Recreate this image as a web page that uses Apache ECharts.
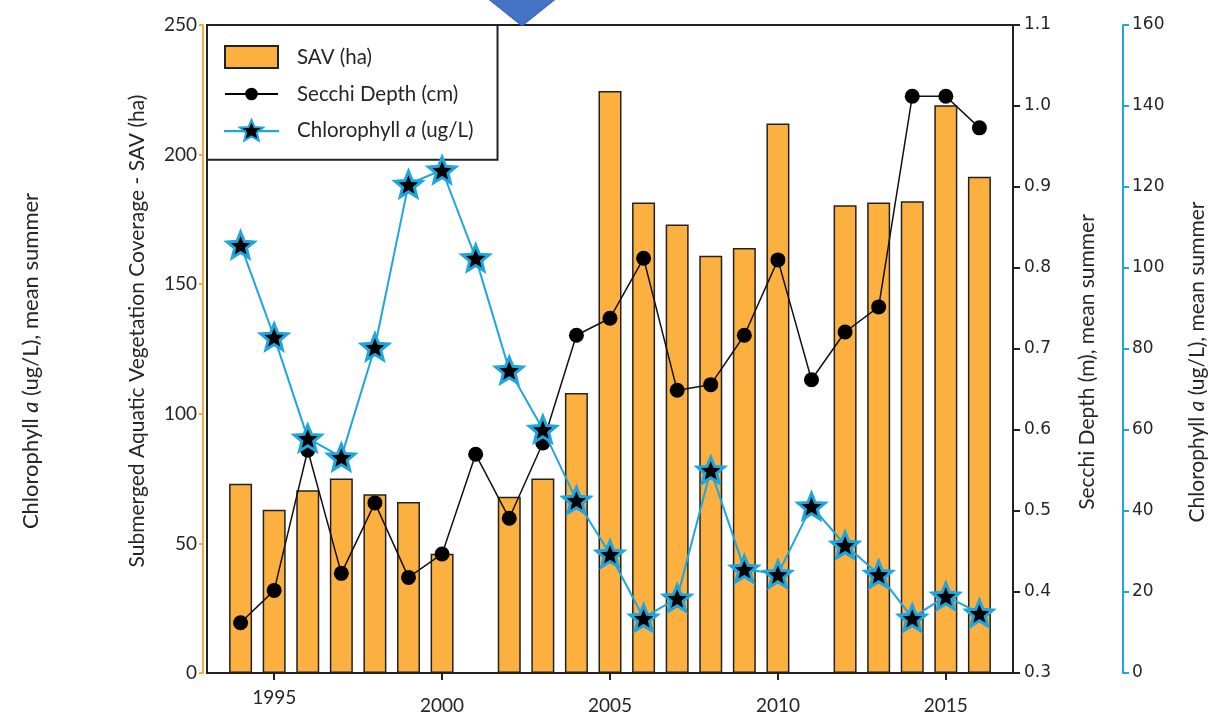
<!DOCTYPE html>
<html>
<head>
<meta charset="utf-8">
<script src="https://cdn.jsdelivr.net/npm/echarts@6/dist/echarts.min.js"></script>
<style>
html,body{margin:0;padding:0;background:#fff;}
#chart{width:1230px;height:714px;}
</style>
</head>
<body>
<div id="chart"></div>
<script>
const years = [1994,1995,1996,1997,1998,1999,2000,2001,2002,2003,2004,2005,2006,2007,2008,2009,2010,2011,2012,2013,2014,2015,2016];
const savHa = [73,63,70.5,75,69,66,46,null,68,75,108,224.5,181.5,173,161,164,212,null,180.5,181.5,182,219,191.5];
const secchiM = [0.362,0.402,0.575,0.423,0.51,0.418,0.447,0.570,0.491,0.584,0.717,0.738,0.812,0.649,0.656,0.717,0.81,0.662,0.721,0.752,1.012,1.012,0.973];
const chlUgL = [105.7,83,58,53.3,80.5,120.7,124.2,102.5,74.8,60.2,42.7,29.4,13.6,18.5,50.1,25.7,24.4,41.2,31.6,24.4,13.6,19,14.8];
const xTickYears = [1995,2000,2005,2010,2015];

const pair = (arr) => years.map((y,i) => [y, arr[i]]).filter(d => d[1] !== null);
const STAR = 'path://M50,0L62.93,32.2L97.55,34.55L70.92,56.8L79.39,90.45L50,72L20.61,90.45L29.08,56.8L2.45,34.55L37.07,32.2Z';
const LEG_DOT = 'path://M0,10H52V12H0Z M32.2,11A6.2,6.2 0 1 1 19.8,11A6.2,6.2 0 1 1 32.2,11Z';
const LEG_STAR = 'path://M0,10.9H19.5V11.1H0Z M32.5,10.9H52V11.1H32.5Z M26,0L28.96,6.93L37.4,7.45L31.24,12.55L33.18,20.3L26,16.04L18.82,20.3L20.76,12.55L14.6,7.45L23.04,6.93Z';
const TXT = '#262626';
const ORANGE = '#F7A93B';
const BLUE = '#1EA6DE';
const FONT = 'Lato';
const NAME_SIZE = 21;

const chart = echarts.init(document.getElementById('chart'), null, {renderer:'canvas'});
chart.setOption({
  animation: false,
  backgroundColor: '#fff',
  grid: {left: 207, right: 217, top: 25, bottom: 41, outerBoundsMode: 'none', containLabel: false,
    show: true, borderColor: '#222', borderWidth: 2, backgroundColor: 'transparent'},
  legend: {
    left: 207, top: 25,
    orient: 'vertical',
    padding: [20, 24, 18, 17],
    itemGap: 14.5,
    itemWidth: 53, itemHeight: 22,
    backgroundColor: '#fff', borderColor: '#222', borderWidth: 2,
    data: [
      {name: 'SAV (ha)', icon: 'rect'},
      {name: 'Secchi Depth (cm)', icon: LEG_DOT},
      {name: 'Chlorophyll a (ug/L)', icon: LEG_STAR}
    ],
    formatter: function (name) {
      if (name.indexOf('Chlorophyll') === 0) return '{n|Chlorophyll }{i|a}{n| (ug/L)}';
      return '{n|' + name + '}';
    },
    textStyle: {
      padding: [0, 0, 0, 14],
      rich: {
        n: {fontFamily: FONT, fontSize: 20.5, color: TXT},
        i: {fontFamily: FONT, fontSize: 20.5, color: TXT, fontStyle: 'italic'}
      }
    }
  },
  xAxis: [{
    type: 'value', min: 1993, max: 2017, position: 'bottom',
    axisLine: {show: true, onZero: false, lineStyle: {color: '#222', width: 2}},
    axisTick: {show: true, customValues: xTickYears, length: 7, lineStyle: {color: '#222', width: 2}},
    axisLabel: {
      customValues: xTickYears, margin: 15,
      formatter: v => (v === 1995 ? '{a|' + v + '}' : '{b|' + v + '}'),
      rich: {
        a: {fontFamily: FONT, fontSize: 19, color: TXT},
        b: {fontFamily: FONT, fontSize: 19, color: TXT, padding: [8, 0, 0, 0]}
      }
    },
    splitLine: {show: false}
  }],
  yAxis: [{
    type: 'value', min: 0, max: 250, interval: 50, position: 'left', offset: 4,
    axisLine: {show: true, lineStyle: {color: ORANGE, width: 2}},
    axisTick: {show: true, length: 4, lineStyle: {color: ORANGE, width: 2}},
    axisLabel: {fontFamily: FONT, fontSize: 19, color: TXT, margin: 6},
    splitLine: {show: false},
    name: 'Submerged Aquatic Vegetation Coverage - SAV (ha)',
    nameLocation: 'middle', nameRotate: 90, nameGap: 55,
    nameTextStyle: {fontFamily: FONT, fontSize: NAME_SIZE, color: TXT, padding: [0, 0, 0, 36]}
  }, {
    type: 'value', min: 0.3, max: 1.1, interval: 0.1, position: 'right',
    axisLine: {show: true, lineStyle: {color: '#222', width: 2}},
    axisTick: {show: true, length: 7, lineStyle: {color: '#222', width: 2}},
    axisLabel: {fontFamily: 'DejaVu Sans', fontSize: 17, color: TXT, margin: 11, formatter: v => v.toFixed(1)},
    splitLine: {show: false},
    name: 'Secchi Depth (m), mean summer',
    nameLocation: 'middle', nameRotate: 90, nameGap: 64,
    nameTextStyle: {fontFamily: FONT, fontSize: NAME_SIZE, color: TXT, padding: [0, 26, 0, 0]}
  }, {
    type: 'value', min: 0, max: 160, interval: 20, position: 'right', offset: 110,
    axisLine: {show: true, lineStyle: {color: BLUE, width: 2}},
    axisTick: {show: true, length: 6, lineStyle: {color: BLUE, width: 2}},
    axisLabel: {fontFamily: 'DejaVu Sans', fontSize: 17, color: TXT, margin: 9},
    splitLine: {show: false},
    name: '{n|Chlorophyll }{i|a}{n| (ug/L), mean summer}',
    nameLocation: 'middle', nameRotate: 90, nameGap: 64,
    nameTextStyle: {fontFamily: FONT, fontSize: NAME_SIZE, color: TXT, padding: [0, 26, 0, 0],
      rich: {n: {fontFamily: FONT, fontSize: NAME_SIZE, color: TXT}, i: {fontFamily: FONT, fontSize: NAME_SIZE, color: TXT, fontStyle: 'italic'}}}
  }],
  graphic: [{
    type: 'polygon', z: 100,
    shape: {points: [[487, -2], [557, -2], [522, 26]]},
    style: {fill: '#4472C4', stroke: '#3A64AE', lineWidth: 1}
  }, {
    type: 'text', x: 31, y: 361, rotation: Math.PI / 2,
    style: {
      text: '{n|Chlorophyll }{i|a}{n| (ug/L), mean summer}',
      align: 'center', verticalAlign: 'middle',
      rich: {n: {fontFamily: FONT, fontSize: 22, fill: TXT}, i: {fontFamily: FONT, fontSize: 22, fill: TXT, fontStyle: 'italic'}}
    }
  }],
  series: [{
    name: 'SAV (ha)', type: 'bar', xAxisIndex: 0, yAxisIndex: 0,
    barWidth: 23,
    itemStyle: {color: '#FBB040', borderColor: '#222', borderWidth: 1.5},
    data: pair(savHa)
  }, {
    name: 'Secchi Depth (cm)', type: 'line', xAxisIndex: 0, yAxisIndex: 1,
    symbol: 'circle', symbolSize: 15,
    lineStyle: {color: '#111', width: 1.5},
    itemStyle: {color: '#000', borderColor: '#000', borderWidth: 0},
    data: pair(secchiM), z: 3
  }, {
    name: 'Chlorophyll a (ug/L)', type: 'line', xAxisIndex: 0, yAxisIndex: 2,
    symbol: STAR, symbolSize: 27, symbolKeepAspect: true,
    lineStyle: {color: BLUE, width: 2},
    itemStyle: {color: '#000', borderColor: BLUE, borderWidth: 3},
    data: pair(chlUgL), z: 4
  }]
});
</script>
</body>
</html>
